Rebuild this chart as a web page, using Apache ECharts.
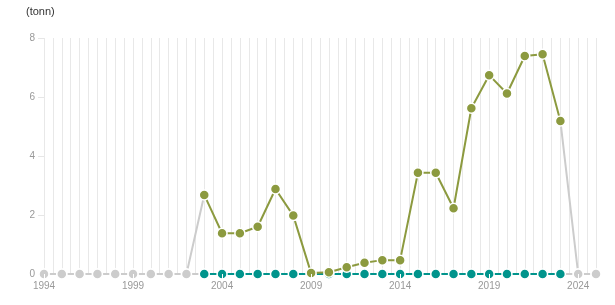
<!DOCTYPE html>
<html>
<head>
<meta charset="utf-8">
<script src="https://cdn.jsdelivr.net/npm/echarts@6/dist/echarts.min.js"></script>
<style>
html,body{margin:0;padding:0;background:#fff;}
#chart{width:615px;height:305px;}
</style>
</head>
<body>
<div id="chart"></div>
<script>
const years = [1994,1995,1996,1997,1998,1999,2000,2001,2002,2003,2004,2005,2006,2007,2008,2009,2010,2011,2012,2013,2014,2015,2016,2017,2018,2019,2020,2021,2022,2023,2024,2025];
// olive series (2003-2023), null where no data
const oliveValues = [null,null,null,null,null,null,null,null,null,2.68,1.38,1.38,1.6,2.88,1.98,0.03,0.06,0.23,0.38,0.47,0.47,3.43,3.43,2.23,5.62,6.74,6.12,7.39,7.45,5.19,null,null];
// teal series (2003-2023), all zero
const tealValues = [null,null,null,null,null,null,null,null,null,0,0,0,0,0,0,0,0,0,0,0,0,0,0,0,0,0,0,0,0,0,null,null];
// grey (missing) connecting segments
const greyValues = [0,0,0,0,0,0,0,0,0,2.68,null,null,null,null,null,null,null,null,null,null,null,null,null,null,null,null,null,null,null,5.19,0,0];
const greyZeroValues = [0,0,0,0,0,0,0,0,0,0,null,null,null,null,null,null,null,null,null,null,null,null,null,null,null,null,null,null,null,0,0,0];
const xTickLabels = [1994,1999,2004,2009,2014,2019,2024];
const yTickLabels = [0,2,4,6,8];

function pairs(vals){ return years.map((y,i)=>[y, vals[i]]); }
const greySym = (vals) => years.map((y,i)=>({value:[y, vals[i]], symbolSize: (vals[i]===0)?10:0}));

const chart = echarts.init(document.getElementById('chart'), null, {renderer:'canvas'});
const font = 'Liberation Sans, Arial, sans-serif';
chart.setOption({
  animation:false,
  backgroundColor:'#fff',
  title:{text:'(tonn)', left:21, top:1, textStyle:{fontSize:11, fontWeight:'normal', color:'#333', fontFamily:font}},
  grid:{left:44, right:19, top:38, bottom:31, containLabel:false},
  xAxis:[{
    type:'value', min:years[0], max:years[years.length-1], interval:0.5,
    axisLine:{show:false}, axisTick:{show:false}, axisLabel:{show:false},
    splitLine:{show:true, lineStyle:{color:'#e8e8e8', width:1}}
  },{
    type:'value', min:years[0], max:years[years.length-1], position:'bottom',
    z:10,
    axisLine:{show:false},
    axisTick:{show:true, customValues:xTickLabels, length:5, lineStyle:{color:'#fff', width:1}},
    axisLabel:{customValues:xTickLabels, color:'#999', fontSize:10, margin:7, fontFamily:font, formatter:v=>String(v)},
    splitLine:{show:false}
  }],
  yAxis:{
    type:'value', min:yTickLabels[0], max:yTickLabels[yTickLabels.length-1], interval:2,
    axisLine:{show:false},
    axisTick:{show:true, length:6, lineStyle:{color:'#e6e6e6'}},
    axisLabel:{color:'#999', fontSize:10, margin:9, fontFamily:font},
    splitLine:{show:false}
  },
  series:[
    {type:'line', data:greySym(greyValues), symbol:'circle', connectNulls:false,
     lineStyle:{color:'#cccccc', width:2}, itemStyle:{color:'#cccccc', borderColor:'#fff', borderWidth:1.5}, z:2},
    {type:'line', data:greySym(greyZeroValues), symbol:'circle', connectNulls:false,
     lineStyle:{color:'#cccccc', width:2}, itemStyle:{color:'#cccccc', borderColor:'#fff', borderWidth:1.5}, z:2},
    {type:'line', data:pairs(tealValues), symbol:'circle', symbolSize:10,
     lineStyle:{color:'#00948c', width:2}, itemStyle:{color:'#00948c', borderColor:'#fff', borderWidth:1.5}, z:3},
    {type:'line', data:pairs(oliveValues), symbol:'circle', symbolSize:10,
     lineStyle:{color:'#8c9a3f', width:2}, itemStyle:{color:'#8c9a3f', borderColor:'#fff', borderWidth:1.5}, z:4}
  ]
});
</script>
</body>
</html>
